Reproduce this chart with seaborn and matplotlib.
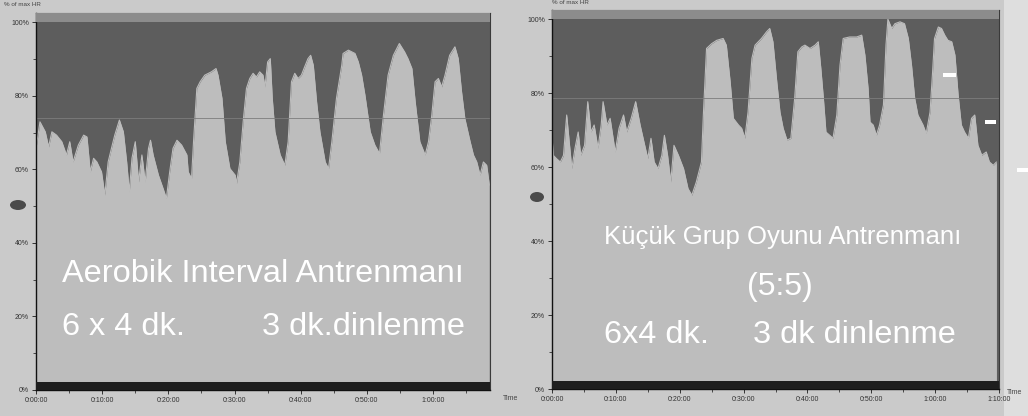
import matplotlib
matplotlib.use("Agg")
import matplotlib.pyplot as plt
import seaborn as sns
import pandas as pd
from matplotlib import font_manager
from matplotlib.patches import Ellipse, Rectangle

# ---------------- data (minutes, % of max HR) ----------------
LEFT_T = [0.0, 0.6, 1.4, 1.9, 2.4, 3.1, 3.9, 4.6, 5.1, 5.6,
          6.4, 7.2, 7.7, 8.2, 8.7, 9.2, 9.9, 10.4, 10.9, 11.4,
          11.9, 12.6, 13.2, 13.7, 14.1, 14.5, 15.0, 15.5, 16.0, 16.5,
          17.0, 17.3, 17.7, 18.5, 19.2, 19.7, 20.2, 20.7, 21.3, 22.0,
          22.8, 23.0, 23.5, 23.8, 24.3, 24.8, 25.5, 26.5, 27.2, 27.5,
          28.1, 28.6, 29.3, 30.1, 30.3, 30.8, 31.3, 31.8, 32.3, 32.8,
          33.3, 33.8, 34.3, 34.6, 35.0, 35.4, 35.7, 36.1, 36.9, 37.6,
          38.1, 38.6, 39.1, 39.6, 40.1, 40.6, 41.1, 41.5, 41.9, 42.4,
          42.9, 43.7, 44.2, 44.7, 45.4, 46.2, 46.4, 47.2, 48.2, 48.7,
          49.2, 49.7, 50.5, 51.2, 51.9, 52.5, 53.2, 54.0, 54.9, 55.7,
          56.2, 56.8, 57.3, 58.0, 58.8, 59.3, 59.8, 60.3, 60.8, 61.3,
          61.8, 62.5, 63.3, 63.8, 64.3, 64.8, 65.6, 66.1, 66.6, 67.1,
          67.6, 68.1, 68.5]
LEFT_HR = [65.7, 72.9, 70.2, 66.1, 70.2, 69.3, 67.5, 63.9, 67.5, 62.0,
           66.6, 69.3, 68.8, 59.3, 63.0, 62.0, 59.3, 53.0, 62.0, 65.7,
           69.3, 73.4, 70.2, 62.0, 53.9, 63.0, 67.5, 56.6, 63.9, 56.6,
           65.7, 67.9, 63.9, 58.4, 54.8, 52.1, 59.3, 65.7, 67.9, 66.6,
           63.9, 59.3, 57.5, 67.5, 82.0, 83.8, 85.6, 86.5, 87.4, 85.6,
           79.3, 67.5, 60.2, 58.4, 56.2, 62.0, 72.9, 82.0, 84.7, 86.1,
           85.1, 86.5, 85.6, 82.4, 89.2, 90.1, 79.3, 70.2, 63.9, 61.1,
           67.5, 83.8, 86.1, 84.7, 85.6, 87.9, 90.1, 91.0, 88.3, 78.3,
           70.2, 62.0, 60.2, 67.5, 79.3, 88.3, 91.5, 92.4, 91.5, 89.2,
           85.6, 80.2, 70.2, 66.6, 64.3, 74.7, 85.6, 91.0, 94.2, 91.9,
           90.1, 87.4, 78.3, 67.5, 63.9, 67.5, 74.7, 83.8, 84.7, 82.4,
           85.6, 91.0, 93.3, 90.1, 81.1, 73.8, 67.5, 63.9, 62.0, 58.4,
           62.0, 61.1, 55.7]

RIGHT_T = [0.0, 0.2, 0.7, 1.3, 1.8, 2.3, 2.7, 3.1, 3.6, 4.1,
           4.5, 5.1, 5.6, 6.1, 6.6, 7.2, 7.7, 8.0, 8.6, 9.1,
           9.9, 10.5, 11.2, 11.7, 12.4, 13.1, 13.8, 14.4, 15.0, 15.5,
           16.0, 16.6, 17.2, 17.6, 18.1, 18.6, 19.1, 19.8, 20.6, 21.3,
           21.9, 22.6, 23.4, 23.7, 24.2, 25.0, 25.8, 26.8, 27.3, 27.9,
           28.4, 29.2, 29.7, 30.2, 30.7, 31.3, 31.8, 32.8, 33.6, 34.1,
           34.6, 35.2, 35.7, 36.2, 36.8, 37.4, 38.0, 38.5, 39.1, 39.6,
           40.4, 41.2, 41.7, 42.1, 42.5, 42.9, 43.5, 44.0, 44.6, 45.1,
           45.6, 46.6, 47.7, 48.5, 49.0, 49.5, 49.8, 50.3, 50.8, 51.3,
           51.9, 52.3, 52.6, 53.2, 53.7, 54.5, 55.2, 55.8, 56.3, 56.8,
           57.3, 58.1, 58.6, 59.2, 59.6, 59.9, 60.5, 61.0, 61.5, 62.0,
           62.6, 63.1, 63.6, 64.1, 64.6, 65.2, 65.7, 66.2, 66.7, 67.3,
           68.0, 68.5, 69.1, 69.6]
RIGHT_HR = [68.6, 63.2, 62.3, 61.4, 63.2, 74.1, 66.8, 59.6, 65.1, 69.5,
            63.2, 65.9, 77.7, 69.5, 71.4, 65.1, 71.4, 77.7, 71.4, 73.2,
            64.1, 70.5, 74.1, 69.5, 73.2, 77.7, 71.4, 66.8, 62.3, 67.8,
            61.4, 59.6, 63.2, 68.6, 63.2, 56.0, 65.9, 63.2, 59.6, 54.2,
            52.4, 56.0, 61.4, 74.1, 92.1, 93.4, 94.3, 94.8, 93.0, 83.1,
            73.2, 71.4, 70.5, 67.8, 74.9, 89.4, 93.0, 94.8, 96.6, 97.5,
            93.9, 83.1, 74.9, 70.5, 67.3, 67.8, 78.6, 91.2, 92.5, 93.0,
            92.1, 93.0, 93.9, 86.7, 78.6, 69.5, 68.6, 67.8, 74.1, 87.6,
            94.8, 95.2, 95.2, 95.7, 90.3, 81.3, 72.2, 71.4, 68.6, 71.4,
            76.8, 93.0, 100.0, 97.5, 98.8, 99.3, 98.8, 94.8, 87.6, 78.6,
            74.1, 71.4, 69.1, 74.9, 85.8, 94.8, 97.9, 97.5, 95.7, 94.3,
            93.9, 90.3, 79.5, 71.4, 69.5, 67.8, 73.2, 74.1, 65.9, 63.2,
            64.1, 61.4, 60.5, 61.4]

LEFT_REF = 74.0
RIGHT_REF = 78.6

Y_TICKS = [0, 20, 40, 60, 80, 100]
Y_LABELS = ["0%", "20%", "40%", "60%", "80%", "100%"]
LEFT_X_TICKS = [0, 10, 20, 30, 40, 50, 60]
LEFT_X_LABELS = ["0:00:00", "0:10:00", "0:20:00", "0:30:00", "0:40:00", "0:50:00", "1:00:00"]
RIGHT_X_TICKS = [0, 10, 20, 30, 40, 50, 60, 70]
RIGHT_X_LABELS = ["0:00:00", "0:10:00", "0:20:00", "0:30:00", "0:40:00", "0:50:00", "1:00:00", "1:10:00"]

LEFT_TEXT_1 = "Aerobik Interval Antrenmanı"
LEFT_TEXT_2A = "6 x 4 dk."
LEFT_TEXT_2B = "3 dk.dinlenme"
RIGHT_TEXT_1 = "Küçük Grup Oyunu Antrenmanı"
RIGHT_TEXT_2 = "(5:5)"
RIGHT_TEXT_3A = "6x4 dk."
RIGHT_TEXT_3B = "3 dk dinlenme"

# ---------------- style ----------------
sns.set_style("ticks")
plt.rcParams["font.family"] = ["Liberation Sans", "DejaVu Sans"]

_names = {f.name for f in font_manager.fontManager.ttflist}
if "Liberation Sans Narrow" in _names:
    BIG_FAMILY = ["Liberation Sans Narrow", "Liberation Sans", "DejaVu Sans"]
    FS = 1.0 / 0.82
else:
    BIG_FAMILY = ["Liberation Sans", "DejaVu Sans"]
    FS = 1.0

DARK = "#5d5d5d"
LIGHT = "#bdbdbd"
STRIP = "#8c8c8c"
BAR = "#1f1f1f"
FIGBG = "#cacaca"
TICKC = "#333333"

W, H = 1028, 416
fig = plt.figure(figsize=(W / 100, H / 100), dpi=100, facecolor=FIGBG)

axL = fig.add_axes([36 / W, 1 - 390 / H, (490 - 36) / W, (390 - 13) / H])
axR = fig.add_axes([552 / W, 1 - 389 / H, (999 - 552) / W, (389 - 10) / H])


def draw_panel(ax, t, hr, ref, xmax, xticks, xlabels):
    df = pd.DataFrame({"t": t, "hr": hr})
    ax.set_facecolor(DARK)
    ax.fill_between(df["t"], 0, df["hr"], color=LIGHT, lw=0, zorder=1)
    sns.lineplot(data=df, x="t", y="hr", ax=ax, color=LIGHT, lw=0.8,
                 zorder=2, legend=False)
    ax.axhspan(100, 102.5, color=STRIP, lw=0, zorder=3)
    ax.axhspan(0, 2.2, color=BAR, lw=0, zorder=3)
    ax.axhline(ref, color="#7d7d7d", lw=0.6, zorder=2.5)
    ax.set_xlim(0, xmax)
    ax.set_ylim(0, 102.5)
    ax.set_xlabel("")
    ax.set_ylabel("")
    ax.set_yticks(Y_TICKS)
    ax.set_yticklabels(Y_LABELS)
    ax.set_yticks([10, 30, 50, 70, 90], minor=True)
    ax.set_xticks(xticks)
    ax.set_xticklabels(xlabels)
    ax.set_xticks([x + 5 for x in xticks if x + 5 <= xmax], minor=True)
    ax.tick_params(axis="both", which="major", labelsize=5, colors=TICKC,
                   length=3, width=0.7, pad=2, direction="out")
    ax.tick_params(axis="both", which="minor", length=2, width=0.6,
                   colors=TICKC, direction="out")
    for s in ["left", "bottom"]:
        ax.spines[s].set_color("#111111")
        ax.spines[s].set_linewidth(1.0)
    for s in ["top", "right"]:
        ax.spines[s].set_visible(True)
        ax.spines[s].set_color("#3a3a3a")
        ax.spines[s].set_linewidth(0.8)


draw_panel(axL, LEFT_T, LEFT_HR, LEFT_REF, 68.6, LEFT_X_TICKS, LEFT_X_LABELS)
draw_panel(axR, RIGHT_T, RIGHT_HR, RIGHT_REF, 70.0, RIGHT_X_TICKS, RIGHT_X_LABELS)

txt = dict(color="white", family=BIG_FAMILY, zorder=5, va="baseline", ha="left")
axL.text(3.9, 29.4, LEFT_TEXT_1, fontsize=23.4 * FS, **txt)
axL.text(3.9, 15.0, LEFT_TEXT_2A, fontsize=23.4 * FS, **txt)
axL.text(34.1, 15.0, LEFT_TEXT_2B, fontsize=23.4 * FS, **txt)

axR.text(8.1, 39.2, RIGHT_TEXT_1, fontsize=18.5 * FS, **txt)
axR.text(35.7, 25.4, RIGHT_TEXT_2, fontsize=23.0 * FS,
         **{**txt, "ha": "center"})
axR.text(8.1, 12.4, RIGHT_TEXT_3A, fontsize=23.4 * FS, **txt)
axR.text(31.5, 12.4, RIGHT_TEXT_3B, fontsize=23.4 * FS, **txt)

# small header / axis captions
fig.text(4 / W, 1 - 4 / H, "% of max HR", fontsize=4.5, color="#444444",
         va="center", ha="left")
fig.text(552 / W, 1 - 3 / H, "% of max HR", fontsize=4.5, color="#444444",
         va="center", ha="left")
fig.text(503 / W, 1 - 399 / H, "Time", fontsize=5, color="#444444",
         va="center", ha="left")
fig.text(1007 / W, 1 - 392 / H, "Time", fontsize=5, color="#444444",
         va="center", ha="left")

# scan artefacts: light right margin, dark punch marks, white zone markers
fig.add_artist(Rectangle((1004 / W, 0), 24 / W, 1, transform=fig.transFigure,
                         color="#dedede", lw=0, zorder=0))
fig.add_artist(Ellipse((18 / W, 1 - 205 / H), 16 / W, 10 / H,
                       transform=fig.transFigure, color="#4a4a4a", lw=0))
fig.add_artist(Ellipse((537 / W, 1 - 197 / H), 14 / W, 10 / H,
                       transform=fig.transFigure, color="#4a4a4a", lw=0))
for (x0, y0, w) in [(943, 75, 13), (985, 122, 11), (1017, 170, 11)]:
    fig.add_artist(Rectangle((x0 / W, 1 - (y0 + 2) / H), w / W, 4 / H,
                             transform=fig.transFigure, color="white", lw=0,
                             zorder=10))

fig.savefig("out.png", dpi=100, facecolor=FIGBG)
